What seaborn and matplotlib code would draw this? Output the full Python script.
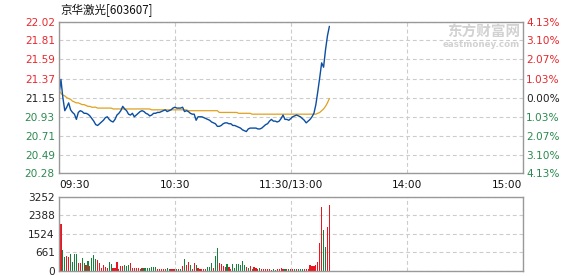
import numpy as np
import pandas as pd
import matplotlib
matplotlib.use("Agg")
import matplotlib.pyplot as plt
import seaborn as sns

# ---- intraday data (one point per trading minute from 09:30) ----
stock_title = "京华激光[603607]"
prev_close = 21.15

price = [
    21.18, 21.36, 21.15, 21.00, 21.04, 21.09, 21.01, 20.98, 20.96, 20.90,
    20.98, 21.00, 20.99, 20.97, 20.97, 20.96, 20.94, 20.91, 20.88, 20.84,
    20.83, 20.85, 20.87, 20.89, 20.92, 20.93, 20.90, 20.88, 20.87, 20.90,
    20.95, 20.97, 21.00, 21.05, 21.02, 21.00, 20.96, 20.95, 20.97, 20.93,
    20.95, 20.97, 20.99, 21.00, 20.99, 20.97, 20.96, 20.94, 20.95, 20.97,
    20.97, 20.98, 20.98, 20.99, 21.00, 21.01, 20.99, 21.00, 21.01, 21.03,
    21.04, 21.03, 21.03, 21.03, 21.04, 20.99, 21.00, 20.99, 20.97, 20.96,
    20.96, 20.89, 20.93, 20.93, 20.93, 20.92, 20.91, 20.90, 20.89, 20.87,
    20.86, 20.85, 20.82, 20.82, 20.83, 20.85, 20.86, 20.86, 20.85, 20.85,
    20.83, 20.83, 20.82, 20.81, 20.80, 20.78, 20.77, 20.76, 20.79, 20.80,
    20.80, 20.80, 20.80, 20.79, 20.79, 20.80, 20.82, 20.84, 20.85, 20.88,
    20.90, 20.88, 20.88, 20.87, 20.88, 20.91, 20.95, 20.90, 20.90, 20.89,
    20.91, 20.93, 20.94, 20.95, 20.94, 20.93, 20.91, 20.89, 20.86, 20.88,
    20.90, 20.93, 20.97, 21.07, 21.22, 21.38, 21.55, 21.50, 21.70, 21.86,
    21.97,
]

avg_price = [
    21.23, 21.20, 21.18, 21.17, 21.15, 21.14, 21.13, 21.11, 21.10, 21.09,
    21.09, 21.08, 21.07, 21.07, 21.06, 21.05, 21.05, 21.04, 21.04, 21.04,
    21.03, 21.03, 21.03, 21.03, 21.03, 21.03, 21.03, 21.03, 21.02, 21.02,
    21.02, 21.02, 21.02, 21.02, 21.02, 21.02, 21.02, 21.02, 21.02, 21.02,
    21.02, 21.02, 21.02, 21.02, 21.02, 21.02, 21.02, 21.02, 21.01, 21.01,
    21.01, 21.01, 21.01, 21.01, 21.01, 21.01, 21.01, 21.01, 21.01, 21.01,
    21.01, 21.01, 21.01, 21.01, 21.01, 21.01, 21.01, 21.00, 21.00, 21.00,
    21.00, 21.00, 21.00, 21.00, 21.00, 21.00, 21.00, 21.00, 21.00, 21.00,
    21.00, 21.00, 21.00, 20.98, 20.98, 20.98, 20.98, 20.98, 20.98, 20.98,
    20.98, 20.98, 20.98, 20.97, 20.97, 20.97, 20.97, 20.97, 20.97, 20.97,
    20.96, 20.96, 20.96, 20.96, 20.96, 20.96, 20.96, 20.96, 20.96, 20.96,
    20.96, 20.96, 20.96, 20.96, 20.96, 20.96, 20.96, 20.96, 20.96, 20.96,
    20.96, 20.96, 20.96, 20.96, 20.96, 20.96, 20.96, 20.96, 20.96, 20.96,
    20.96, 20.96, 20.96, 20.96, 20.97, 20.98, 21.00, 21.02, 21.05, 21.09,
    21.14,
]

# volume per traded minute (bar k covers the minute ending at 09:30 + k)
volume = [
    2060, 920, 585, 657, 600, 745, 395, 745, 745, 350,
    350, 570, 350, 263, 438, 219, 570, 700, 525, 480,
    350, 130, 263, 175, 130, 395, 305, 130, 130, 395,
    88, 190, 219, 263, 190, 263, 350, 130, 130, 130,
    130, 88, 130, 130, 130, 130, 100, 175, 175, 175,
    88, 60, 88, 88, 88, 130, 88, 88, 88, 88,
    88, 88, 88, 219, 525, 263, 395, 263, 88, 350,
    263, 130, 88, 88, 60, 60, 175, 175, 350, 130,
    657, 1007, 350, 305, 219, 175, 305, 175, 88, 305,
    130, 305, 305, 263, 438, 263, 175, 130, 219,
    88, 175, 130, 88, 130, 88, 88, 88, 88, 88,
    45, 88, 45, 88, 60, 130, 88, 88, 88, 88,
    88, 60, 88, 60, 88, 88, 88, 88, 88, 88,
    263, 219, 219, 263, 395, 1226, 2803, 1781, 1051, 1927,
    2890,
]

# r = up tick (red), g = down tick (green)
vol_dir_rows = [
    "rggrrggggr", "rggrgrgggr", "rrrrrggrrr", "rrrgggrrrr",
    "rgrggggggg", "rrrrrggrrr", "grgrgrrgrr", "grrrrrgggr",
    "ggrrrrgrrg", "ggggggrgr", "grrrgrrrrr", "rggrrrrgrg",
    "rrgrgggrrr", "rrrrrrrggr", "r",
]

price_ticks = [22.02, 21.81, 21.59, 21.37, 21.15, 20.93, 20.71, 20.49, 20.28]
pct_labels = ["4.13%", "3.10%", "2.07%", "1.03%", "0.00%",
              "1.03%", "2.07%", "3.10%", "4.13%"]
vol_tick_labels = ["0", "661", "1524", "2388", "3252"]
vol_max = 3252
time_pos = [0, 60, 120, 180, 240]
time_labels = ["09:30", "10:30", "11:30/13:00", "14:00", "15:00"]

# ---- styling ----
RED = "#e8161e"
GREEN = "#14813c"
TXT_RED = "#e8282d"
TXT_GREEN = "#2b8a4f"
LINE_BLUE = "#0b4ea2"
LINE_AVG = "#e0a11e"
SPINE = "#999999"
GRID = "#cccccc"
MARK = "#d2d2d2"

sns.set_theme(style="white")
plt.rcParams["font.family"] = ["DejaVu Sans"]

W, H = 578, 276
fig = plt.figure(figsize=(W / 100, H / 100), dpi=100)


def ax_rect(x0, y0, x1, y1):
    return [x0 / W, 1 - y1 / H, (x1 - x0) / W, (y1 - y0) / H]


ax_p = fig.add_axes(ax_rect(59, 22, 522.5, 173.3))
ax_v = fig.add_axes(ax_rect(59, 196.7, 522.5, 270.7))

line_df = pd.DataFrame({
    "minute": np.arange(len(price)),
    "price": price,
    "avg": avg_price,
})
bar_df = pd.DataFrame({
    "minute": np.arange(1, len(volume) + 1).astype(float),
    "volume": volume,
    "dir": list("".join(vol_dir_rows)),
})

# price panel
sns.lineplot(data=line_df, x="minute", y="avg", ax=ax_p, color=LINE_AVG, lw=0.9)
sns.lineplot(data=line_df, x="minute", y="price", ax=ax_p, color=LINE_BLUE, lw=1.0)

# volume panel: one unit-wide bin centred on each minute
nb = len(volume)
for key, col in (("r", RED), ("g", GREEN)):
    sub = bar_df[bar_df["dir"] == key]
    sns.histplot(data=sub, x="minute", weights="volume", binwidth=1,
                 binrange=(0.5, nb + 0.5), shrink=0.6, color=col, alpha=1,
                 linewidth=0, element="bars", ax=ax_v)

for ax in (ax_p, ax_v):
    ax.set_xlim(0, 240)
    ax.set_xlabel("")
    ax.set_ylabel("")
    for s in ax.spines.values():
        s.set_color(SPINE)
        s.set_linewidth(1.0)
    ax.set_axisbelow(True)
    ax.grid(True, color=GRID, linestyle=(0, (3.5, 2.5)), linewidth=0.8)
    ax.set_xticks(time_pos)
    ax.tick_params(length=0, labelsize=7.6, pad=3)

ax_p.set_ylim(min(price_ticks), max(price_ticks))
ax_p.set_yticks(price_ticks)
ax_p.set_yticklabels([f"{v:.2f}" for v in price_ticks])
for lab, v in zip(ax_p.get_yticklabels(), price_ticks):
    lab.set_color(TXT_RED if v > prev_close else (TXT_GREEN if v < prev_close else "#222222"))

ax_p.set_xticklabels(time_labels)
ax_p.tick_params(axis="x", pad=5, labelcolor="#111111")
xl = ax_p.get_xticklabels()
xl[0].set_horizontalalignment("left")
xl[-1].set_horizontalalignment("right")

ax_r = ax_p.twinx()
ax_r.set_ylim(ax_p.get_ylim())
ax_r.set_yticks(price_ticks)
ax_r.set_yticklabels(pct_labels)
ax_r.tick_params(length=0, labelsize=7.6, pad=2.5)
for s in ax_r.spines.values():
    s.set_visible(False)
for lab, v in zip(ax_r.get_yticklabels(), price_ticks):
    lab.set_color(TXT_RED if v > prev_close else (TXT_GREEN if v < prev_close else "#222222"))
ax_r.grid(False)

ax_v.set_ylim(0, vol_max)
ax_v.set_yticks(np.linspace(0, vol_max, len(vol_tick_labels)))
ax_v.set_yticklabels(vol_tick_labels, color="#222222")
ax_v.set_xticklabels([])

# title and site mark
fig.text(60 / W, 1 - 10.5 / H, stock_title, ha="left", va="center",
         fontsize=8.3, color="#111111",
         family=["Noto Sans CJK SC", "DejaVu Sans"])
fig.text(520 / W, 1 - 31.5 / H, "东方财富网", ha="right", va="center",
         fontsize=10.5, fontweight="bold", color=MARK,
         family=["Noto Sans CJK SC", "DejaVu Sans"])
fig.text(520 / W, 1 - 44.5 / H, "eastmoney.com", ha="right", va="center",
         fontsize=6.3, fontweight="bold", color=MARK)

fig.savefig("out.png", dpi=100)
